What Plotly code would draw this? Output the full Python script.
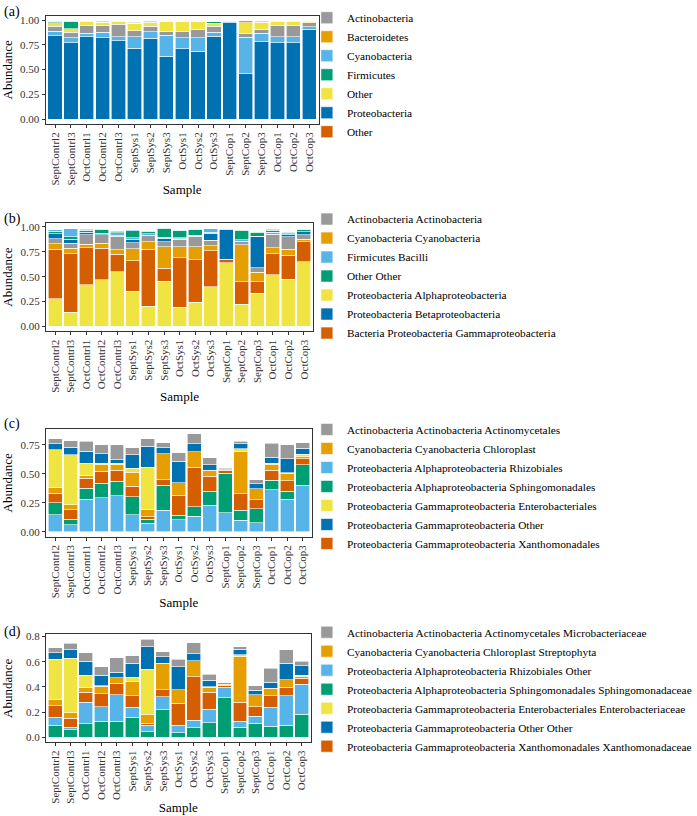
import plotly.graph_objects as go

W, H = 697, 816

samples = ["SeptContrl2", "SeptContrl3", "OctContrl1", "OctContrl2", "OctContrl3",
           "SeptSys1", "SeptSys2", "SeptSys3", "OctSys1", "OctSys2", "OctSys3",
           "SeptCop1", "SeptCop2", "SeptCop3", "OctCop1", "OctCop2", "OctCop3"]

palette = ["#999999", "#E69F00", "#56B4E9", "#009E73", "#F0E442", "#0072B2", "#D55E00"]

# ---------------- Panel (a): phylum ----------------
a_names = ["Actinobacteria", "Bacteroidetes", "Cyanobacteria", "Firmicutes",
           "Other", "Proteobacteria", "Other"]
a_proteobacteria = [0.84, 0.773, 0.833, 0.823, 0.79, 0.717, 0.817, 0.633, 0.71, 0.685,
                    0.835, 0.975, 0.457, 0.783, 0.773, 0.773, 0.907]
a_cyanobacteria = [0.05, 0.05, 0.034, 0.054, 0.043, 0.116, 0.066, 0.212, 0.113, 0.138,
                   0.045, 0.015, 0.368, 0.084, 0.06, 0.06, 0.026]
a_actinobacteria = [0.05, 0.057, 0.083, 0.073, 0.127, 0.06, 0.054, 0.043, 0.067, 0.087,
                    0.057, 0.0, 0.035, 0.043, 0.117, 0.117, 0.04]
a_other = [0.033, 0.033, 0.033, 0.027, 0.023, 0.074, 0.038, 0.095, 0.093, 0.073,
           0.033, 0.0, 0.112, 0.067, 0.033, 0.033, 0.017]
a_firmicutes = [0.012, 0.077, 0.008, 0.004, 0.004, 0.01, 0.005, 0.004, 0.004, 0.004,
                0.012, 0.002, 0.004, 0.006, 0.006, 0.004, 0.003]
a_bacteroidetes = [0.004, 0.003, 0.004, 0.008, 0.006, 0.006, 0.008, 0.004, 0.004, 0.004,
                   0.004, 0.003, 0.016, 0.01, 0.004, 0.006, 0.003]
a_other2 = [0.0] * 17
# stacking order bottom -> top : (legend index, values)
a_layers = [(6, a_other2), (5, a_proteobacteria), (2, a_cyanobacteria), (0, a_actinobacteria),
            (4, a_other), (3, a_firmicutes), (1, a_bacteroidetes)]

# ---------------- Panel (b): class ----------------
b_names = ["Actinobacteria Actinobacteria", "Cyanobacteria Cyanobacteria", "Firmicutes Bacilli",
           "Other Other", "Proteobacteria Alphaproteobacteria", "Proteobacteria Betaproteobacteria",
           "Bacteria Proteobacteria Gammaproteobacteria"]
b_alpha = [0.28, 0.14, 0.418, 0.468, 0.552, 0.351, 0.20, 0.452, 0.19, 0.241, 0.401, 0.642,
           0.224, 0.331, 0.518, 0.475, 0.652]
b_gamma = [0.496, 0.59, 0.375, 0.318, 0.174, 0.308, 0.576, 0.133, 0.502, 0.431, 0.358, 0.034,
           0.224, 0.12, 0.214, 0.241, 0.201]
b_cyano = [0.054, 0.056, 0.033, 0.05, 0.044, 0.124, 0.074, 0.218, 0.111, 0.131, 0.05, 0.0,
           0.375, 0.096, 0.061, 0.06, 0.023]
b_actino = [0.05, 0.05, 0.094, 0.087, 0.137, 0.06, 0.06, 0.05, 0.073, 0.097, 0.059, 0.0,
            0.027, 0.045, 0.127, 0.124, 0.044]
b_beta = [0.05, 0.04, 0.026, 0.012, 0.01, 0.033, 0.006, 0.035, 0.004, 0.005, 0.067, 0.30,
          0.004, 0.308, 0.008, 0.02, 0.03]
b_bacilli_1 = [0.0, 0.0, 0.0, 0.0, 0.025, 0.017, 0.015, 0.01, 0.01, 0.01, 0.0, 0.004,
               0.02, 0.005, 0.02, 0.01, 0.0]
b_other = [0.025, 0.027, 0.02, 0.04, 0.01, 0.067, 0.025, 0.088, 0.07, 0.055, 0.01, 0.0,
           0.095, 0.042, 0.02, 0.015, 0.02]
b_bacilli_2 = [0.015, 0.08, 0.01, 0.005, 0.01, 0.01, 0.005, 0.005, 0.005, 0.005, 0.035, 0.004,
               0.005, 0.005, 0.008, 0.005, 0.005]
b_layers = [(4, b_alpha), (6, b_gamma), (1, b_cyano), (0, b_actino), (5, b_beta),
            (2, b_bacilli_1), (3, b_other), (2, b_bacilli_2)]

# ---------------- Panel (c): order ----------------
c_names = ["Actinobacteria Actinobacteria Actinomycetales",
           "Cyanobacteria Cyanobacteria Chloroplast",
           "Proteobacteria Alphaproteobacteria Rhizobiales",
           "Proteobacteria Alphaproteobacteria Sphingomonadales",
           "Proteobacteria Gammaproteobacteria Enterobacteriales",
           "Proteobacteria Gammaproteobacteria Other",
           "Proteobacteria Gammaproteobacteria Xanthomonadales"]
c_rhizobiales = [0.149, 0.063, 0.281, 0.295, 0.312, 0.149, 0.072, 0.186, 0.106, 0.135, 0.229,
                 0.166, 0.10, 0.078, 0.364, 0.28, 0.40]
c_sphingomonadales = [0.10, 0.046, 0.097, 0.126, 0.126, 0.152, 0.037, 0.215, 0.037, 0.08, 0.121,
                      0.341, 0.086, 0.122, 0.08, 0.07, 0.18]
c_xanthomonadales = [0.086, 0.083, 0.086, 0.10, 0.092, 0.094, 0.02, 0.049, 0.172, 0.344, 0.131,
                     0.023, 0.143, 0.078, 0.086, 0.09, 0.05]
c_chloroplast = [0.052, 0.043, 0.023, 0.058, 0.049, 0.12, 0.066, 0.223, 0.109, 0.134, 0.049,
                 0.007, 0.367, 0.094, 0.05, 0.06, 0.02]
c_enterobacteriales = [0.321, 0.43, 0.106, 0.014, 0.014, 0.035, 0.364, 0.0, 0.0, 0.0, 0.0,
                       0.0, 0.02, 0.0, 0.01, 0.01, 0.02]
c_gamma_other = [0.051, 0.066, 0.103, 0.08, 0.029, 0.115, 0.18, 0.052, 0.186, 0.066, 0.051,
                 0.0, 0.043, 0.043, 0.054, 0.12, 0.05]
c_actinomycetales = [0.046, 0.057, 0.086, 0.08, 0.131, 0.06, 0.063, 0.043, 0.071, 0.086, 0.058,
                     0.013, 0.023, 0.035, 0.121, 0.12, 0.05]
c_layers = [(2, c_rhizobiales), (3, c_sphingomonadales), (6, c_xanthomonadales),
            (1, c_chloroplast), (4, c_enterobacteriales), (5, c_gamma_other),
            (0, c_actinomycetales)]

# ---------------- Panel (d): family ----------------
d_names = ["Actinobacteria Actinobacteria Actinomycetales Microbacteriaceae",
           "Cyanobacteria Cyanobacteria Chloroplast Streptophyta",
           "Proteobacteria Alphaproteobacteria Rhizobiales Other",
           "Proteobacteria Alphaproteobacteria Sphingomonadales Sphingomonadaceae",
           "Proteobacteria Gammaproteobacteria Enterobacteriales Enterobacteriaceae",
           "Proteobacteria Gammaproteobacteria Other Other",
           "Proteobacteria Gammaproteobacteria Xanthomonadales Xanthomonadaceae"]
d_sphingomonadaceae = [0.094, 0.06, 0.107, 0.126, 0.126, 0.16, 0.042, 0.22, 0.034, 0.076, 0.115,
                       0.312, 0.081, 0.112, 0.086, 0.094, 0.181]
d_rhizobiales_other = [0.066, 0.021, 0.171, 0.118, 0.21, 0.079, 0.052, 0.103, 0.06, 0.058, 0.108,
                       0.085, 0.045, 0.053, 0.153, 0.237, 0.242]
d_xanthomonadaceae = [0.092, 0.071, 0.079, 0.10, 0.092, 0.092, 0.019, 0.053, 0.177, 0.347, 0.134,
                      0.018, 0.152, 0.079, 0.092, 0.066, 0.045]
d_streptophyta = [0.045, 0.042, 0.04, 0.061, 0.046, 0.113, 0.068, 0.21, 0.105, 0.126, 0.035,
                  0.005, 0.363, 0.092, 0.058, 0.058, 0.013]
d_enterobacteriaceae = [0.323, 0.432, 0.097, 0.005, 0.0, 0.032, 0.36, 0.0, 0.0, 0.0, 0.008,
                        0.0, 0.013, 0.0, 0.0, 0.0, 0.013]
d_gamma_other_other = [0.053, 0.068, 0.108, 0.084, 0.041, 0.113, 0.177, 0.055, 0.186, 0.058,
                       0.054, 0.0, 0.045, 0.039, 0.047, 0.134, 0.074]
d_microbacteriaceae = [0.039, 0.053, 0.071, 0.068, 0.118, 0.058, 0.06, 0.04, 0.058, 0.087, 0.048,
                       0.013, 0.019, 0.035, 0.111, 0.105, 0.037]
d_layers = [(3, d_sphingomonadaceae), (2, d_rhizobiales_other), (6, d_xanthomonadaceae),
            (1, d_streptophyta), (4, d_enterobacteriaceae), (5, d_gamma_other_other),
            (0, d_microbacteriaceae)]

y_ticks = {
    1: ([0, 0.25, 0.5, 0.75, 1.0], ["0.00", "0.25", "0.50", "0.75", "1.00"]),
    2: ([0, 0.25, 0.5, 0.75, 1.0], ["0.00", "0.25", "0.50", "0.75", "1.00"]),
    3: ([0, 0.25, 0.5, 0.75], ["0.00", "0.25", "0.50", "0.75"]),
    4: ([0, 0.2, 0.4, 0.6, 0.8], ["0.0", "0.2", "0.4", "0.6", "0.8"]),
}
panel_letters = ["(a)", "(b)", "(c)", "(d)"]

# ---------------- layout geometry (pixels) ----------------
panels = [
    dict(names=a_names, layers=a_layers, x0=46.0, x1=322.0, top=11.7, bot=120.7,
         letter_y=8.0, leg_top=-0.8, ystand=5),
    dict(names=b_names, layers=b_layers, x0=46.3, x1=316.5, top=220.3, bot=329.3,
         letter_y=216.5, leg_top=201.8, ystand=5),
    dict(names=c_names, layers=c_layers, x0=46.3, x1=315.0, top=427.7, bot=536.0,
         letter_y=422.5, leg_top=413.5, ystand=5),
    dict(names=d_names, layers=d_layers, x0=46.3, x1=314.0, top=634.3, bot=742.7,
         letter_y=631.5, leg_top=617.5, ystand=10),
]

SERIF = "Liberation Serif, Times New Roman, serif"
fig = go.Figure()
layout = dict(
    width=W, height=H, margin=dict(l=0, r=0, t=0, b=0),
    paper_bgcolor="white", plot_bgcolor="white",
    barmode="stack", bargap=0.1,
    font=dict(family=SERIF, color="black"),
    annotations=[],
)

for p, cfg in enumerate(panels, start=1):
    sfx = "" if p == 1 else str(p)
    leg = "legend" if p == 1 else f"legend{p}"
    seen = set()
    totals = [0.0] * len(samples)
    for idx, vals in cfg["layers"]:
        totals = [t + v for t, v in zip(totals, vals)]
        fig.add_trace(go.Bar(
            x=samples,
            y=[v if v > 0 else None for v in vals],
            name=cfg["names"][idx],
            marker=dict(color=palette[idx], line=dict(color="white", width=0.6)),
            width=0.9,
            xaxis="x" + sfx, yaxis="y" + sfx,
            legend=leg,
            legendgroup=f"p{p}_{idx}",
            legendrank=idx + 1,
            showlegend=idx not in seen,
            hoverinfo="x+y+name",
        ))
        seen.add(idx)
    m = max(totals)
    tv, tt = y_ticks[p]
    layout["xaxis" + sfx] = dict(
        domain=[cfg["x0"] / W, cfg["x1"] / W], anchor="y" + sfx,
        type="category", categoryorder="array", categoryarray=samples,
        range=[-0.6, len(samples) - 0.4],
        showline=True, mirror=True, linecolor="#333333", linewidth=1,
        ticks="outside", ticklen=3, tickcolor="#333333", tickwidth=1,
        tickangle=-90, tickfont=dict(family=SERIF, size=11, color="#333333"),
        showgrid=False, zeroline=False,
        title=dict(text="Sample", font=dict(family=SERIF, size=13, color="black"), standoff=0),
    )
    layout["yaxis" + sfx] = dict(
        domain=[1 - cfg["bot"] / H, 1 - cfg["top"] / H], anchor="x" + sfx,
        range=[-0.05 * m, 1.05 * m],
        tickvals=tv, ticktext=tt,
        showline=True, mirror=True, linecolor="#333333", linewidth=1,
        ticks="outside", ticklen=3, tickcolor="#333333", tickwidth=1,
        tickfont=dict(family=SERIF, size=11, color="#333333"),
        showgrid=False, zeroline=False,
        title=dict(text="Abundance", font=dict(family=SERIF, size=13, color="black"),
                   standoff=cfg["ystand"]),
    )
    layout[leg] = dict(
        x=310 / W, y=1 - cfg["leg_top"] / H, xanchor="left", yanchor="top",
        traceorder="normal", bgcolor="rgba(0,0,0,0)",
        font=dict(family=SERIF, size=11.3, color="black"),
    )
    layout["annotations"].append(dict(
        text=panel_letters[p - 1], xref="paper", yref="paper",
        x=2 / W, y=1 - cfg["letter_y"] / H, xanchor="left", yanchor="middle",
        showarrow=False, font=dict(family=SERIF, size=14, color="black"),
    ))

fig.update_layout(**layout)
# remove the browser's default 8px page margin so the figure sits at the window origin
fig.write_html("out.html", config={"displayModeBar": False},
               post_script="document.body.style.margin='0px';")
